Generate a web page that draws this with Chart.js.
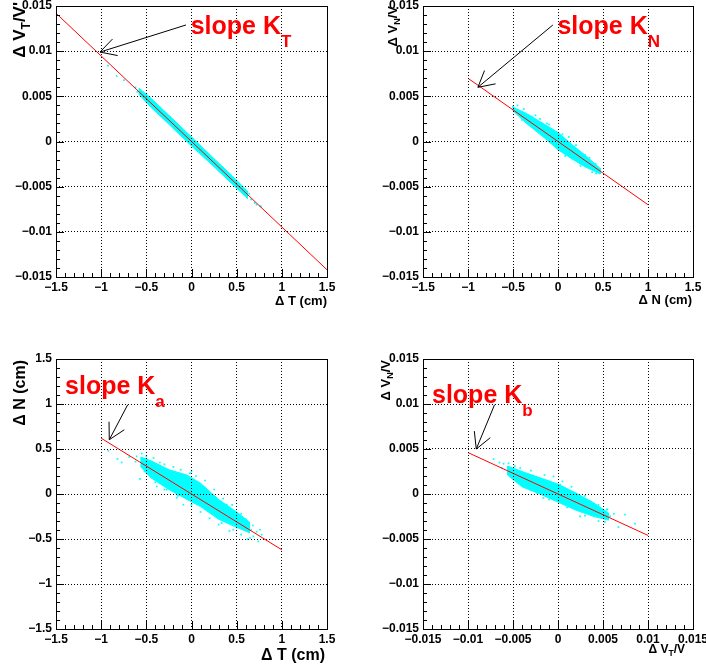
<!DOCTYPE html>
<html><head><meta charset="utf-8">
<script src="https://cdn.jsdelivr.net/npm/chart.js@4/dist/chart.umd.min.js"></script>
<style>
html,body{margin:0;padding:0;background:#fff;width:706px;height:668px;overflow:hidden}
.p{position:absolute;width:353px;height:334px}
canvas{display:block}
</style></head><body>
<div class="p" style="left:0;top:0"><canvas id="c1" width="353" height="334"></canvas></div>
<div class="p" style="left:353px;top:0"><canvas id="c2" width="353" height="334"></canvas></div>
<div class="p" style="left:0;top:334px"><canvas id="c3" width="353" height="334"></canvas></div>
<div class="p" style="left:353px;top:334px"><canvas id="c4" width="353" height="334"></canvas></div>
<script>
// ---------- tick values / labels ----------
const ticksCm = [-1.5, -1, -0.5, 0, 0.5, 1, 1.5];
const labelsCm = ['\u22121.5', '\u22121', '\u22120.5', '0', '0.5', '1', '1.5'];
const ticksRel = [-0.015, -0.01, -0.005, 0, 0.005, 0.01, 0.015];
const labelsRel = ['\u22120.015', '\u22120.01', '\u22120.005', '0', '0.005', '0.01', '0.015'];

// ---------- panel 1 : dVT/V' vs dT ----------
const fit1X = [-1.5, 1.5];
const fit1Y = [0.0142, -0.0142];
const core1X = [-0.58, -0.45, -0.25, 0, 0.25, 0.45, 0.62, 0.62, 0.45, 0.25, 0, -0.25, -0.45, -0.58, -0.58];
const core1Y = [0.0059, 0.0048, 0.0029, 0.0005, -0.0019, -0.0038, -0.0055, -0.0063, -0.0047, -0.0028, -0.0005, 0.0019, 0.0038, 0.0052, 0.0059];
const pts1X = [-0.924, -0.828, -0.747, -0.62, -0.60, 0.64, 0.66, 0.70, 0.72, 0.758, 0.77];
const pts1Y = [0.0084, 0.00725, 0.0068, 0.0060, 0.0055, -0.0058, -0.0064, -0.0068, -0.0070, -0.00714, -0.0072];

// ---------- panel 2 : dVN/V vs dN ----------
const fit2X = [-1, 1];
const fit2Y = [0.0070, -0.0070];
const core2X = [-0.50, -0.35, -0.15, 0, 0.15, 0.30, 0.47, 0.47, 0.30, 0.15, 0, -0.15, -0.35, -0.50, -0.50];
const core2Y = [0.0038, 0.0031, 0.0019, 0.0010, -0.0003, -0.0015, -0.0030, -0.0036, -0.0028, -0.0019, -0.0009, 0.0004, 0.0020, 0.0034, 0.0038];
const pts2X = [-0.501, -0.420, -0.401, -0.290, -0.198, -0.124, -0.013, 0.024, 0.135, 0.190, 0.301, 0.357, 0.393, 0.468, 0.423,
  -0.45, -0.38, -0.25, -0.10, 0.05, 0.20, 0.35, 0.42, -0.42, -0.28, -0.08, 0.08, 0.25, 0.38, -0.20, 0.12];
const pts2Y = [0.00385, 0.00312, 0.00238, 0.00275, 0.00127, 0.00201, 0.00072, -0.00058, -0.00020, -0.00150, -0.00150, -0.00241, -0.00260, -0.00316, -0.00352,
  0.0040, 0.0036, 0.0029, 0.0019, 0.0008, -0.0004, -0.0018, -0.0025, 0.0029, 0.0016, -0.0001, -0.0016, -0.0027, -0.0034, 0.0025, 0.0005];

// ---------- panel 3 : dN vs dT ----------
const fit3X = [-1, 1];
const fit3Y = [0.62, -0.62];
const core3X = [-0.56, -0.45, -0.25, -0.05, 0.10, 0.30, 0.50, 0.64, 0.64, 0.50, 0.30, 0.10, -0.05, -0.25, -0.45, -0.56, -0.56];
const core3Y = [0.41, 0.37, 0.27, 0.21, 0.12, -0.06, -0.20, -0.31, -0.43, -0.37, -0.28, -0.14, -0.06, 0.05, 0.18, 0.30, 0.41];
const pts3X = [-0.92, -0.82, -0.773, -0.607, -0.570, -0.689, -0.478, -0.385, -0.275, -0.164, 0.058, 0.094, 0.242, 0.352, 0.463, 0.556, 0.611, 0.685, 0.758, 0.777, 0.740, 0.648, 0.500, 0.168, -0.017, -0.201, -0.349, -0.515, -0.459, 0.390, 0.334, -0.090,
  -0.55, -0.50, -0.42, -0.35, -0.30, -0.20, -0.12, 0.00, 0.05, 0.15, 0.25, 0.35, 0.45, 0.55, 0.60, 0.68, 0.72, -0.52, -0.40, -0.30, -0.15, 0.00, 0.10, 0.20, 0.30, 0.42, 0.55, 0.62, -0.62, 0.66];
const pts3Y = [0.48, 0.39, 0.351, 0.418, 0.167, 0.411, 0.362, 0.084, 0.048, -0.044, 0.122, 0.048, -0.193, -0.286, -0.397, -0.341, -0.322, -0.471, -0.397, -0.452, -0.527, -0.489, -0.249, -0.044, 0.233, 0.196, 0.251, 0.270, 0.214, -0.119, -0.322, -0.119,
  0.45, 0.42, 0.40, 0.35, 0.33, 0.30, 0.27, 0.25, 0.20, 0.15, 0.05, -0.05, -0.12, -0.22, -0.28, -0.35, -0.42, 0.25, 0.13, 0.05, -0.02, -0.12, -0.20, -0.27, -0.34, -0.41, -0.45, -0.50, 0.36, -0.40];

// ---------- panel 4 : dVN/V vs dVT/V ----------
const fit4X = [-0.01, 0.01];
const fit4Y = [0.0046, -0.0046];
const core4X = [-0.0056, -0.004, -0.002, 0, 0.002, 0.004, 0.0056, 0.0056, 0.004, 0.002, 0, -0.002, -0.004, -0.0056, -0.0056];
const core4Y = [0.0031, 0.0025, 0.0018, 0.0011, 0.0001, -0.0010, -0.0021, -0.0029, -0.0025, -0.0018, -0.0009, 0.0000, 0.0008, 0.0021, 0.0031];
const pts4X = [-0.00716, -0.00605, -0.00623, -0.00531, -0.00457, -0.00401, -0.00309, -0.00235, -0.00050, 0.00024, 0.00135, 0.00246, 0.00357, 0.00431, 0.00504, 0.00542, 0.00579, 0.00745, 0.00856, 0.00671, 0.00246, -0.00162, -0.00420, 0.00098, -0.00124, -0.00383,
  -0.0065, -0.0055, -0.0048, -0.0030, -0.0015, 0.0005, 0.0015, 0.0030, 0.0045, 0.0055, 0.0062, -0.0050, -0.0035, -0.0010, 0.0010, 0.0030, 0.0045, 0.0052];
const pts4Y = [0.00389, 0.00337, 0.00289, 0.00233, 0.00262, 0.00159, 0.00048, 0.00011, 0.00196, 0.00103, -0.0010, -0.00138, -0.00082, -0.00193, -0.00211, -0.00174, -0.00249, -0.00230, -0.00330, -0.00367, -0.00249, -0.00044, 0.00289, 0.00011, 0.00011, 0.00103,
  0.0035, 0.0034, 0.0031, 0.0026, 0.0021, 0.0014, 0.0008, -0.0002, -0.0012, -0.0017, -0.0022, 0.0017, 0.0008, -0.0006, -0.0015, -0.0024, -0.0030, -0.0031];

// ---------- annotations (data coordinates) ----------
const slopeText = 'slope K';
const slopeSubs = ['T', 'N', 'a', 'b'];
const arrowTail = [[-0.061, 0.0129], [-0.057, 0.0129], [-0.706, 0.992], [-0.00705, 0.00992]];
const arrowHead = [[-1.013, 0.0099], [-0.890, 0.0060], [-0.910, 0.603], [-0.00908, 0.0050]];
const textPos = [[-0.009, 0.01187], [-0.006, 0.01187], [-1.40, 1.111], [-0.0140, 0.0101]];

const FF = '"Liberation Sans", Arial, Helvetica, sans-serif';
const CYAN = '#00ffff';

function zip(xs, ys) { return xs.map((x, i) => ({x: x, y: ys[i]})); }
function richWidth(ctx, parts) {
  let w = 0;
  for (const p of parts) { ctx.font = 'bold ' + p.s + 'px ' + FF; w += ctx.measureText(p.t).width; }
  return w;
}
function drawRich(ctx, parts, x, y, align) {
  let cx = align === 'right' ? x - richWidth(ctx, parts) : x;
  ctx.textAlign = 'left'; ctx.textBaseline = 'alphabetic';
  for (const p of parts) {
    ctx.font = 'bold ' + p.s + 'px ' + FF;
    ctx.fillText(p.t, cx, y + (p.dy || 0));
    cx += ctx.measureText(p.t).width;
  }
}

function makePanel(id, cfg) {
  const area = cfg.area;
  const W = 353, H = 334;
  const overlay = {
    id: 'rootStyle' + id,
    afterDraw(chart) {
      const ctx = chart.ctx, xs = chart.scales.x, ys = chart.scales.y, ca = chart.chartArea;
      ctx.save();
      ctx.setLineDash([]);
      ctx.strokeStyle = '#000'; ctx.lineWidth = 1;
      // ticks (inside, left & bottom)
      const xt = cfg.xTicks, yt = cfg.yTicks;
      const xStep = (xt[1] - xt[0]) / 5, yStep = (yt[1] - yt[0]) / 5;
      const bottom = Math.round(ca.bottom), left = Math.round(ca.left);
      ctx.fillStyle = '#000';
      for (let i = 0; i < xt.length - 1; i++) {
        for (let k = 0; k < 5; k++) {
          const px = Math.round(xs.getPixelForValue(xt[i] + k * xStep));
          const len = k === 0 ? 8 : 4;
          ctx.fillRect(px, bottom - len, 1, len);
        }
      }
      for (let i = 0; i < yt.length - 1; i++) {
        for (let k = 0; k < 5; k++) {
          const py = Math.round(ys.getPixelForValue(yt[i] + k * yStep));
          const len = k === 0 ? 8 : 4;
          ctx.fillRect(left, py, len, 1);
        }
      }
      // frame
      ctx.strokeRect(left + 0.5, Math.round(ca.top) + 0.5, Math.round(ca.right - ca.left), Math.round(ca.bottom - ca.top));
      // arrow
      const t = cfg.arrowTail, h = cfg.arrowHead;
      const tx = xs.getPixelForValue(t[0]), ty = ys.getPixelForValue(t[1]);
      const hx = xs.getPixelForValue(h[0]), hy = ys.getPixelForValue(h[1]);
      const ang = Math.atan2(ty - hy, tx - hx);
      const L = 18, A = 0.5;
      ctx.beginPath();
      ctx.moveTo(tx, ty); ctx.lineTo(hx, hy);
      ctx.moveTo(hx + L * Math.cos(ang - A), hy + L * Math.sin(ang - A));
      ctx.lineTo(hx, hy);
      ctx.lineTo(hx + L * Math.cos(ang + A), hy + L * Math.sin(ang + A));
      ctx.stroke();
      // slope label
      ctx.fillStyle = '#ff0000';
      const sx = xs.getPixelForValue(cfg.textPos[0]), sy = ys.getPixelForValue(cfg.textPos[1]);
      drawRich(ctx, [{t: slopeText, s: 25}, {t: cfg.sub, s: 17, dy: 12.5}], sx, sy, 'left');
      // axis titles
      ctx.fillStyle = '#000';
      drawRich(ctx, cfg.xTitle, cfg.xTitlePos[0], cfg.xTitlePos[1], 'right');
      ctx.save();
      ctx.translate(cfg.yTitlePos[0], cfg.yTitlePos[1]);
      ctx.rotate(-Math.PI / 2);
      drawRich(ctx, cfg.yTitle, 0, 0, 'right');
      ctx.restore();
      ctx.restore();
    }
  };
  const tickFont = {family: FF, size: 12, weight: 'bold'};
  const axis = (ticks, labels, isX) => ({
    type: 'linear',
    min: ticks[0], max: ticks[ticks.length - 1],
    afterBuildTicks: (s) => { s.ticks = ticks.map(v => ({value: v})); },
    afterFit: (s) => {
      if (isX) s.height = H - area.b; else s.width = area.l;
      s.paddingLeft = 0; s.paddingRight = 0; s.paddingTop = 0; s.paddingBottom = 0;
    },
    ticks: {
      autoSkip: false, maxRotation: 0, minRotation: 0, padding: isX ? 3 : 4,
      color: '#000', font: tickFont,
      callback: (v, i) => labels[i]
    },
    grid: {color: '#000', lineWidth: 1, drawTicks: false, z: 1},
    border: {display: false, dash: [1, 2]}
  });
  return new Chart(document.getElementById(id), {
    type: 'scatter',
    data: {
      datasets: [
        {data: zip(cfg.fitX, cfg.fitY), showLine: true, borderColor: '#ff0000', borderWidth: 1, pointRadius: 0, tension: 0, fill: false},
        {data: zip(cfg.ptsX, cfg.ptsY), showLine: false, pointStyle: 'rect', pointRadius: 1.2, borderWidth: 0, backgroundColor: CYAN},
        {data: zip(cfg.coreX, cfg.coreY), showLine: true, borderColor: CYAN, borderWidth: 1, backgroundColor: CYAN, fill: 'shape', pointRadius: 0, tension: 0}
      ]
    },
    options: {
      responsive: false, animation: false, devicePixelRatio: 1, events: [],
      layout: {padding: {left: 0, top: area.t, right: W - area.r, bottom: 0}},
      plugins: {legend: {display: false}, tooltip: {enabled: false}, title: {display: false}},
      scales: {x: axis(cfg.xTicks, cfg.xLabels, true), y: axis(cfg.yTicks, cfg.yLabels, false)}
    },
    plugins: [overlay]
  });
}

makePanel('c1', {
  area: {l: 56, r: 327, t: 6, b: 277},
  xTicks: ticksCm, xLabels: labelsCm, yTicks: ticksRel, yLabels: labelsRel,
  fitX: fit1X, fitY: fit1Y, coreX: core1X, coreY: core1Y, ptsX: pts1X, ptsY: pts1Y,
  arrowTail: arrowTail[0], arrowHead: arrowHead[0], textPos: textPos[0], sub: slopeSubs[0],
  xTitle: [{t: '\u0394 T (cm)', s: 13}], xTitlePos: [327, 305],
  yTitle: [{t: '\u0394 V', s: 17}, {t: 'T', s: 12, dy: 5}, {t: "/V'", s: 17}], yTitlePos: [25, 2]
});
makePanel('c2', {
  area: {l: 70, r: 340, t: 6, b: 277},
  xTicks: ticksCm, xLabels: labelsCm, yTicks: ticksRel, yLabels: labelsRel,
  fitX: fit2X, fitY: fit2Y, coreX: core2X, coreY: core2Y, ptsX: pts2X, ptsY: pts2Y,
  arrowTail: arrowTail[1], arrowHead: arrowHead[1], textPos: textPos[1], sub: slopeSubs[1],
  xTitle: [{t: '\u0394 N (cm)', s: 13}], xTitlePos: [339, 304],
  yTitle: [{t: '\u0394 V', s: 13}, {t: 'N', s: 9, dy: 3}, {t: '/V', s: 13}], yTitlePos: [44, 6]
});
makePanel('c3', {
  area: {l: 56, r: 327, t: 25, b: 295},
  xTicks: ticksCm, xLabels: labelsCm, yTicks: ticksCm, yLabels: labelsCm,
  fitX: fit3X, fitY: fit3Y, coreX: core3X, coreY: core3Y, ptsX: pts3X, ptsY: pts3Y,
  arrowTail: arrowTail[2], arrowHead: arrowHead[2], textPos: textPos[2], sub: slopeSubs[2],
  xTitle: [{t: '\u0394 T (cm)', s: 16}], xTitlePos: [325, 326],
  yTitle: [{t: '\u0394 N (cm)', s: 16}], yTitlePos: [25, 26]
});
makePanel('c4', {
  area: {l: 70, r: 340, t: 25, b: 295},
  xTicks: ticksRel, xLabels: labelsRel, yTicks: ticksRel, yLabels: labelsRel,
  fitX: fit4X, fitY: fit4Y, coreX: core4X, coreY: core4Y, ptsX: pts4X, ptsY: pts4Y,
  arrowTail: arrowTail[3], arrowHead: arrowHead[3], textPos: textPos[3], sub: slopeSubs[3],
  xTitle: [{t: '\u0394 V', s: 12}, {t: 'T', s: 8.5, dy: 3}, {t: '/V', s: 12}], xTitlePos: [332, 319],
  yTitle: [{t: '\u0394 V', s: 13}, {t: 'N', s: 9, dy: 3}, {t: '/V', s: 13}], yTitlePos: [37, 26]
});
</script>
</body></html>
